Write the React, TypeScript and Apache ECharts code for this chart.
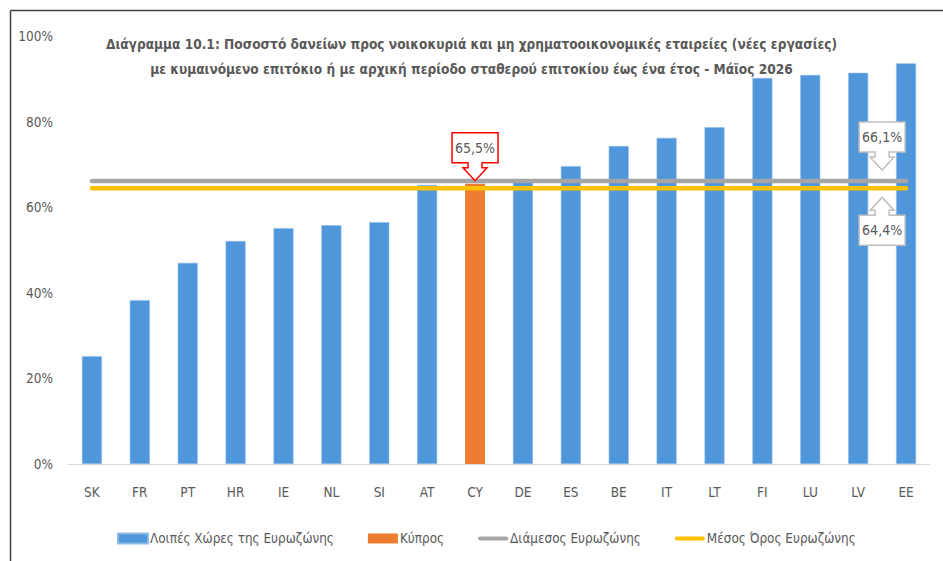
import React, { useEffect, useRef } from "react";
import * as echarts from "echarts";

const categories = ["SK", "FR", "PT", "HR", "IE", "NL", "SI", "AT", "CY", "DE", "ES", "BE", "IT", "LT", "FI", "LU", "LV", "EE"];
const otherValues = [25.2, 38.3, 47.0, 52.1, 55.1, 55.8, 56.5, 65.2, null, 65.9, 69.6, 74.3, 76.2, 78.7, 90.2, 90.9, 91.4, 93.6];
const cyprusValues = [null, null, null, null, null, null, null, null, 65.5, null, null, null, null, null, null, null, null, null];
const medianValue = 66.1;
const meanValue = 64.4;
const cyprusValue = 65.5;
const seriesNames = ["Λοιπές Χώρες της Ευρωζώνης", "Κύπρος", "Διάμεσος Ευρωζώνης", "Μέσος Όρος Ευρωζώνης"];
const titleLines = [
  "Διάγραμμα 10.1: Ποσοστό δανείων προς νοικοκυριά και μη χρηματοοικονομικές εταιρείες (νέες εργασίες)",
  "με κυμαινόμενο επιτόκιο ή με αρχική περίοδο σταθερού επιτοκίου έως ένα έτος - Μάϊος 2026",
];
const fmtPct = (v: number) => v.toFixed(1).replace(".", ",") + "%";

const FONT = "'DejaVu Sans Condensed', 'Liberation Sans Narrow', 'Open Sans', sans-serif";
const TXT = "#595959";

const lineIcon = "path://M2,0 L28,0 A2,2 0 0 1 28,4 L2,4 A2,2 0 0 1 2,0 Z";

function callout(cx: number, tipY: number, text: string, stroke: string, down: boolean) {
  const w = 46, h = 30, sw = 7, hw = 12, sh = 5, hh = 13;
  const d = down ? 1 : -1;
  const headBase = tipY - d * hh;
  const boxEdge = headBase - d * sh;
  const boxFar = boxEdge - d * h;
  const x0 = cx - w / 2, x1 = cx + w / 2;
  const points = [
    [x0, boxFar], [x1, boxFar], [x1, boxEdge], [cx + sw, boxEdge], [cx + sw, headBase],
    [cx + hw, headBase], [cx, tipY], [cx - hw, headBase], [cx - sw, headBase], [cx - sw, boxEdge], [x0, boxEdge],
  ];
  return [
    { type: "polygon", shape: { points }, style: { fill: "#ffffff", stroke, lineWidth: 1.5 }, z: 100 },
    {
      type: "text", x: cx, y: (boxFar + boxEdge) / 2, z: 101,
      style: { text, fill: TXT, font: `14px ${FONT}`, textAlign: "center", textVerticalAlign: "middle" },
    },
  ];
}

export default function App() {
  const ref = useRef<HTMLDivElement>(null);
  useEffect(() => {
    if (!ref.current) return;
    const chart = echarts.init(ref.current, null, { renderer: "svg" });
    chart.setOption({
      animation: false,
      backgroundColor: "#ffffff",
      textStyle: { fontFamily: FONT },
      title: {
        text: titleLines.join("\n"),
        left: "center",
        top: 31,
        padding: [0, 13, 0, 0],
        textStyle: { fontFamily: FONT, fontSize: 13.6, fontWeight: "bold", color: TXT, lineHeight: 25 },
      },
      grid: { left: 68, right: 13, top: 36, bottom: 97, containLabel: false },
      legend: {
        left: 112,
        top: 527,
        itemWidth: 30,
        itemHeight: 10,
        itemGap: 34,
        textStyle: { fontFamily: FONT, fontSize: 13.4, color: TXT, padding: [0, 0, 0, -3] },
        data: [
          { name: seriesNames[0], icon: "rect" },
          { name: seriesNames[1], icon: "rect" },
          { name: seriesNames[2], icon: lineIcon },
          { name: seriesNames[3], icon: lineIcon },
        ],
      },
      xAxis: {
        type: "category",
        data: categories,
        axisLine: { lineStyle: { color: "#D9D9D9", width: 1 } },
        axisTick: { show: false },
        axisLabel: { color: TXT, fontSize: 13.5, fontFamily: FONT, margin: 21 },
      },
      yAxis: {
        type: "value",
        min: 0,
        max: 100,
        interval: 20,
        splitLine: { show: false },
        axisLine: { show: false },
        axisTick: { show: false },
        axisLabel: { color: TXT, fontSize: 13.5, fontFamily: FONT, margin: 15, formatter: "{value}%" },
      },
      series: [
        {
          name: seriesNames[0], type: "bar", stack: "bars", barWidth: 20, data: otherValues,
          itemStyle: { color: "#5096DB", borderColor: "#8DBBE8", borderWidth: 0.6 }, z: 2,
        },
        {
          name: seriesNames[1], type: "bar", stack: "bars", barWidth: 20, data: cyprusValues,
          itemStyle: { color: "#ED7D31" }, z: 2,
        },
        {
          name: seriesNames[2], type: "line", data: categories.map(() => medianValue), symbol: "none",
          lineStyle: { color: "#A5A5A5", width: 4.5, cap: "round" }, itemStyle: { color: "#A5A5A5" }, z: 5,
        },
        {
          name: seriesNames[3], type: "line", data: categories.map(() => meanValue), symbol: "none",
          lineStyle: { color: "#FFC000", width: 4.5, cap: "round" }, itemStyle: { color: "#FFC000" }, z: 6,
        },
      ],
    });

    const cyIdx = categories.indexOf("CY");
    const lvIdx = categories.indexOf("LV");
    const eeIdx = categories.indexOf("EE");
    const cyPt = chart.convertToPixel({ gridIndex: 0 }, [cyIdx, cyprusValue]) as number[];
    const lvPt = chart.convertToPixel({ gridIndex: 0 }, [lvIdx, medianValue]) as number[];
    const eePt = chart.convertToPixel({ gridIndex: 0 }, [eeIdx, meanValue]) as number[];
    const midX = (lvPt[0] + eePt[0]) / 2;

    chart.setOption({
      graphic: [
        { type: "line", shape: { x1: 10.5, y1: 10.5, x2: 943, y2: 10.5 }, style: { stroke: "#404040", lineWidth: 1.5 }, z: 50 },
        { type: "line", shape: { x1: 10.5, y1: 10.5, x2: 10.5, y2: 561 }, style: { stroke: "#404040", lineWidth: 1.5 }, z: 50 },
        ...callout(cyPt[0], cyPt[1] - 3, fmtPct(cyprusValue), "#FF0000", true),
        ...callout(midX, lvPt[1] - 11, fmtPct(medianValue), "#BFBFBF", true),
        ...callout(midX, eePt[1] + 9, fmtPct(meanValue), "#BFBFBF", false),
      ],
    });
    return () => chart.dispose();
  }, []);
  return <div ref={ref} style={{ position: "absolute", left: 0, top: 0, width: 943, height: 561 }} />;
}
